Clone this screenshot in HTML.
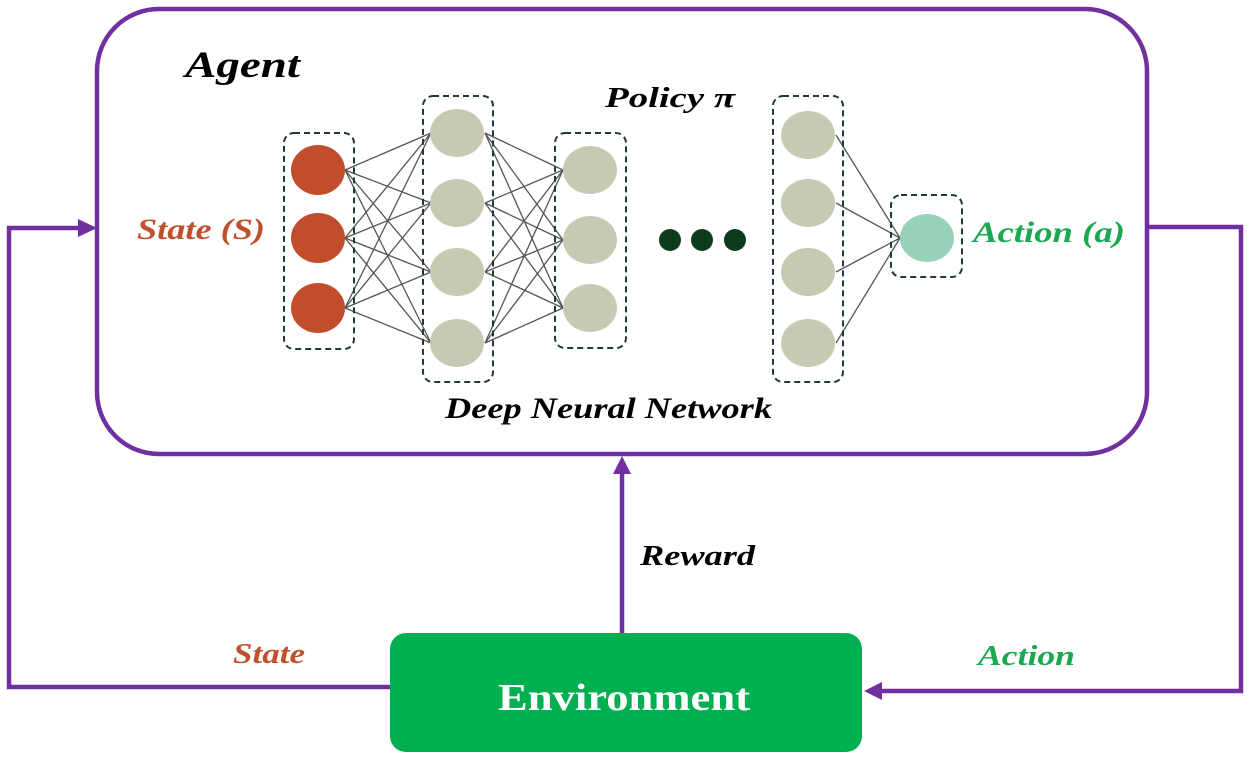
<!DOCTYPE html>
<html><head><meta charset="utf-8"><style>
html,body{margin:0;padding:0;background:#fff;}
svg{display:block;}
text{font-family:"Liberation Serif",serif;font-weight:bold;font-style:italic;}
</style></head><body>
<svg width="1250" height="758" viewBox="0 0 1250 758" xmlns="http://www.w3.org/2000/svg">
<!-- Agent box -->
<rect x="97" y="9" width="1050" height="445" rx="62" fill="none" stroke="#7030a0" stroke-width="4.5"/>
<!-- connectors -->
<g fill="none" stroke="#7030a0" stroke-width="4.5" stroke-linejoin="miter">
<polyline points="390,687 9,687 9,228 80,228"/>
<polyline points="1147,227 1241,227 1241,691 880,691"/>
<line x1="622" y1="633" x2="622" y2="472"/>
</g>
<g fill="#7030a0">
<polygon points="97,228 78,219 78,237"/>
<polygon points="864,691 882,682 882,700"/>
<polygon points="622,456 613,474 631,474"/>
</g>
<!-- network lines -->
<g stroke="#555" stroke-width="1.3">
<line x1="345" y1="170" x2="431" y2="133"/><line x1="345" y1="170" x2="431" y2="203"/><line x1="345" y1="170" x2="431" y2="272"/><line x1="345" y1="170" x2="431" y2="343"/>
<line x1="345" y1="238" x2="431" y2="133"/><line x1="345" y1="238" x2="431" y2="203"/><line x1="345" y1="238" x2="431" y2="272"/><line x1="345" y1="238" x2="431" y2="343"/>
<line x1="345" y1="308" x2="431" y2="133"/><line x1="345" y1="308" x2="431" y2="203"/><line x1="345" y1="308" x2="431" y2="272"/><line x1="345" y1="308" x2="431" y2="343"/>
<line x1="485" y1="133" x2="563" y2="170"/><line x1="485" y1="133" x2="563" y2="240"/><line x1="485" y1="133" x2="563" y2="308"/>
<line x1="485" y1="203" x2="563" y2="170"/><line x1="485" y1="203" x2="563" y2="240"/><line x1="485" y1="203" x2="563" y2="308"/>
<line x1="485" y1="272" x2="563" y2="170"/><line x1="485" y1="272" x2="563" y2="240"/><line x1="485" y1="272" x2="563" y2="308"/>
<line x1="485" y1="343" x2="563" y2="170"/><line x1="485" y1="343" x2="563" y2="240"/><line x1="485" y1="343" x2="563" y2="308"/>
<line x1="836" y1="135" x2="900" y2="238"/><line x1="836" y1="203" x2="900" y2="238"/><line x1="836" y1="272" x2="900" y2="238"/><line x1="836" y1="343" x2="900" y2="238"/>
</g>
<!-- dashed boxes -->
<g fill="none" stroke="#1e3d2a" stroke-width="2" stroke-dasharray="6,4">
<rect x="284" y="133" width="70" height="216" rx="10"/>
<rect x="423" y="96" width="70" height="286" rx="10"/>
<rect x="555" y="133" width="71" height="215" rx="10"/>
<rect x="773" y="96" width="70" height="286" rx="10"/>
<rect x="891" y="195" width="71" height="82" rx="10"/>
</g>
<!-- nodes -->
<g fill="#c24d2c">
<ellipse cx="318" cy="170" rx="27" ry="25"/><ellipse cx="318" cy="238" rx="27" ry="25"/><ellipse cx="318" cy="308" rx="27" ry="25"/>
</g>
<g fill="#c5cbb3">
<ellipse cx="457" cy="133" rx="27" ry="24"/><ellipse cx="457" cy="203" rx="27" ry="24"/><ellipse cx="457" cy="272" rx="27" ry="24"/><ellipse cx="457" cy="343" rx="27" ry="24"/>
<ellipse cx="590" cy="170" rx="27" ry="24"/><ellipse cx="590" cy="240" rx="27" ry="24"/><ellipse cx="590" cy="308" rx="27" ry="24"/>
<ellipse cx="808" cy="135" rx="27" ry="24"/><ellipse cx="808" cy="203" rx="27" ry="24"/><ellipse cx="808" cy="272" rx="27" ry="24"/><ellipse cx="808" cy="343" rx="27" ry="24"/>
</g>
<ellipse cx="927" cy="238" rx="27" ry="24" fill="#96d2b8"/>
<g fill="#0d3b1e">
<circle cx="670" cy="240" r="11"/><circle cx="702" cy="240" r="11"/><circle cx="735" cy="240" r="11"/>
</g>
<!-- environment -->
<rect x="390" y="633" width="472" height="119" rx="16" fill="#00b050"/>
<text x="498" y="710" font-size="38" fill="#fff" style="font-style:normal" textLength="252" lengthAdjust="spacingAndGlyphs">Environment</text>
<!-- labels -->
<text x="185" y="77" font-size="37" fill="#000" textLength="115" lengthAdjust="spacingAndGlyphs">Agent</text>
<text x="605" y="107" font-size="29" fill="#000" textLength="130" lengthAdjust="spacingAndGlyphs">Policy  π</text>
<text x="137" y="239" font-size="30" fill="#c0502d" textLength="128" lengthAdjust="spacingAndGlyphs">State (S)</text>
<text x="973" y="242" font-size="30" fill="#1aa850" textLength="152" lengthAdjust="spacingAndGlyphs">Action  (a)</text>
<text x="445" y="418" font-size="30" fill="#000" textLength="327" lengthAdjust="spacingAndGlyphs">Deep Neural Network</text>
<text x="640" y="565" font-size="29" fill="#000" textLength="115" lengthAdjust="spacingAndGlyphs">Reward</text>
<text x="233" y="663" font-size="29" fill="#c0502d" textLength="72" lengthAdjust="spacingAndGlyphs">State</text>
<text x="978" y="665" font-size="29" fill="#1aa850" textLength="97" lengthAdjust="spacingAndGlyphs">Action</text>
</svg>
</body></html>
